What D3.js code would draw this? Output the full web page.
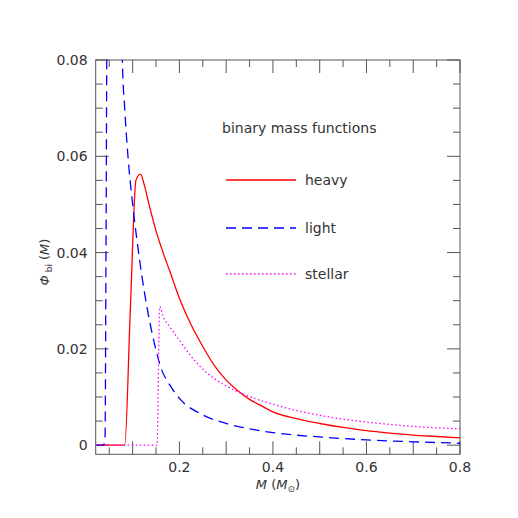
<!DOCTYPE html><html><head><script src="https://d3js.org/d3.v7.min.js"></script>
<style>body{margin:0;background:#fff}text{font-family:"DejaVu Sans",sans-serif;fill:#333}</style></head><body>
<svg id="c" width="518" height="518"></svg>
<script>
const heavyX=[0.021,0.083,0.095,0.107,0.117,0.125,0.135,0.15,0.165,0.18,0.2,0.225,0.25,0.275,0.3,0.325,0.35,0.375,0.4,0.45,0.5,0.55,0.6,0.65,0.7,0.75,0.8];
const heavyY=[0,0,0.028,0.055,0.0563,0.054,0.05,0.0445,0.04,0.036,0.0305,0.025,0.0205,0.0165,0.0135,0.0113,0.0095,0.0082,0.0069,0.0055,0.0045,0.0037,0.003,0.0025,0.0021,0.0018,0.0015];
const lightX=[0.021,0.038,0.041,0.043,0.046,0.075,0.078,0.083,0.09,0.1,0.11,0.12,0.13,0.14,0.15,0.16,0.18,0.2,0.25,0.3,0.35,0.4,0.5,0.6,0.7,0.8];
const lightY=[0,0,0.002,0.04,0.1,0.1,0.08,0.07,0.06,0.05,0.042,0.035,0.029,0.024,0.0197,0.0162,0.0124,0.0097,0.0063,0.0045,0.0034,0.0026,0.0017,0.0011,0.0007,0.0004];
const stellarX=[0.021,0.152,0.158,0.165,0.18,0.2,0.225,0.25,0.275,0.3,0.35,0.4,0.45,0.5,0.55,0.6,0.65,0.7,0.75,0.8];
const stellarY=[0,0,0.0288,0.0268,0.0245,0.0218,0.0185,0.0158,0.0138,0.0123,0.0101,0.0085,0.0072,0.0062,0.0054,0.0048,0.0043,0.0039,0.0036,0.0034];
const xMajor=[0.2,0.4,0.6,0.8];
const yMajor=[0,0.02,0.04,0.06,0.08];
const svg=d3.select("#c");
const L=95.7,R=460,T=60,B=454.3;
const x=d3.scaleLinear().domain([0.021,0.8]).range([L,R]);
const y=d3.scaleLinear().domain([-0.0019,0.08]).range([B,T]);
svg.append("defs").append("clipPath").attr("id","cp").append("rect").attr("x",L).attr("y",T).attr("width",R-L).attr("height",B-T);
const g=svg.append("g");
const tc="#555";
const minorX=d3.range(0.05,0.8001,0.05), minorY=d3.range(0,0.08001,0.005);
minorX.forEach(v=>{const big=Math.abs(v*10-Math.round(v*10))<1e-6;const l=big?13:7;
 g.append("line").attr("x1",x(v)).attr("x2",x(v)).attr("y1",B).attr("y2",B-l).attr("stroke",tc);
 g.append("line").attr("x1",x(v)).attr("x2",x(v)).attr("y1",T).attr("y2",T+l).attr("stroke",tc);});
minorY.forEach(v=>{const big=Math.abs(v*50-Math.round(v*50))<1e-6;const l=big?13:7;
 g.append("line").attr("y1",y(v)).attr("y2",y(v)).attr("x1",L).attr("x2",L+l).attr("stroke",tc);
 g.append("line").attr("y1",y(v)).attr("y2",y(v)).attr("x1",R).attr("x2",R-l).attr("stroke",tc);});
g.append("rect").attr("x",L).attr("y",T).attr("width",R-L).attr("height",B-T).attr("fill","none").attr("stroke",tc);
xMajor.forEach(v=>g.append("text").attr("x",x(v)).attr("y",B+18).attr("text-anchor","middle").attr("font-size",14).text(String(v)));
yMajor.forEach(v=>g.append("text").attr("x",L-8).attr("y",y(v)+5).attr("text-anchor","end").attr("font-size",14).text(v===0?"0":v.toFixed(2)));
const line=d3.line().curve(d3.curveMonotoneX).x(d=>x(d[0])).y(d=>y(d[1]));
const cv=svg.append("g").attr("clip-path","url(#cp)");
cv.append("path").attr("d",line(heavyX.map((v,i)=>[v,heavyY[i]]))).attr("fill","none").attr("stroke","#f00").attr("stroke-width",1.3);
cv.append("path").attr("d",line(lightX.map((v,i)=>[v,lightY[i]]))).attr("fill","none").attr("stroke","#00f").attr("stroke-width",1.3).attr("stroke-dasharray","10,6");
cv.append("path").attr("d",line(stellarX.map((v,i)=>[v,stellarY[i]]))).attr("fill","none").attr("stroke","#f0f").attr("stroke-width",1.3).attr("stroke-dasharray","1.5,2.5");
svg.append("text").attr("x",222).attr("y",133).attr("font-size",14).text("binary mass functions");
[["heavy","#f00",null,180],["light","#00f","10,6",228],["stellar","#f0f","1.5,2.5",274]].forEach(([t,c,d,yy])=>{
 const l=svg.append("line").attr("x1",226).attr("x2",296).attr("y1",yy).attr("y2",yy).attr("stroke",c).attr("stroke-width",1.3);
 if(d)l.attr("stroke-dasharray",d);
 svg.append("text").attr("x",305).attr("y",yy+5).attr("font-size",14).text(t);});
svg.append("text").attr("transform","translate(49,262) rotate(-90)").attr("font-size",13).attr("text-anchor","middle")
 .html('<tspan font-style="italic">Φ</tspan><tspan font-size="9" dy="3"> bi</tspan><tspan dy="-3">  (</tspan><tspan font-style="italic">M</tspan>)');
svg.append("text").attr("x",278).attr("y",489).attr("font-size",13).attr("text-anchor","middle")
 .html('<tspan font-style="italic">M</tspan>  (<tspan font-style="italic">M</tspan><tspan font-size="9" dy="3">⊙</tspan><tspan dy="-3">)</tspan>');
</script></body></html>
